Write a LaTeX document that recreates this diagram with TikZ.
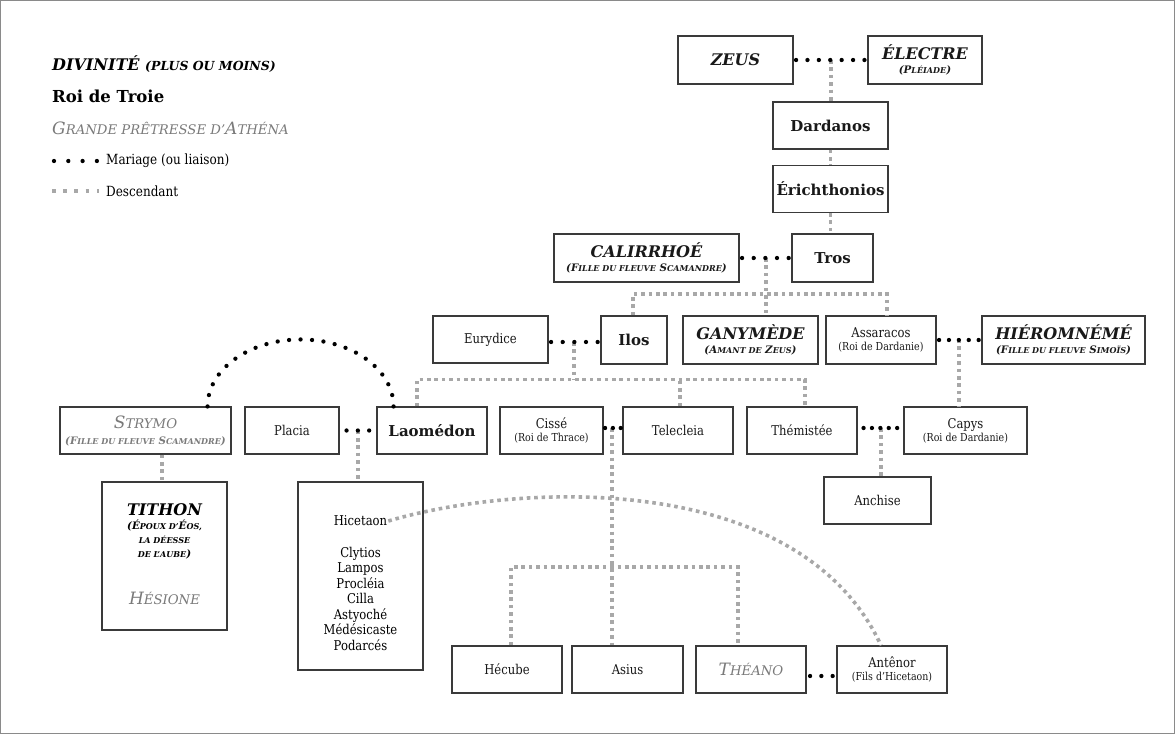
\documentclass[tikz,border=0pt]{standalone}
\usepackage{fontspec}
\setmainfont{DejaVu Serif}
\newfontfamily\etroit{DejaVu Serif}[FakeStretch=0.86]
\usepackage{graphicx}

\definecolor{boxgray}{HTML}{3A3A3A}
\definecolor{descgray}{HTML}{A8A8A8}
\definecolor{textgray}{HTML}{7A7A7A}
\definecolor{framegray}{HTML}{8A8A8A}

% fausses petites capitales
\newcommand\lo[1]{\scalebox{0.78}{#1}}
\newcommand\sous[1]{\\[-2pt]{\etroit\fontsize{11}{12}\selectfont #1}}
\newcommand\sousdieu[1]{\\[-3pt]{\fontsize{10.3}{11}\selectfont\bfseries\itshape #1}}

\tikzset{
  box/.style={draw=boxgray, line width=1.1pt, fill=white, align=center,
    minimum height=47pt, inner sep=0pt, text=black!90},
  gen/.style={font=\etroit\fontsize{13.5}{15}\selectfont},
  roi/.style={font=\fontsize{15}{18}\selectfont\bfseries},
  dieu/.style={font=\fontsize{16}{17}\selectfont\bfseries\itshape},
  pretresse/.style={font=\fontsize{17}{19}\selectfont\itshape, text=textgray},
  mariage/.style={line width=4.3pt, line cap=round, dash pattern=on 0pt off #1},
  mariage/.default=11pt,
  descend/.style={line width=3.6pt, descgray, dash pattern=on 3.6pt off 3.8pt},
}

\begin{document}
\begin{tikzpicture}[x=1pt, y=-1pt]
\useasboundingbox (0,0) rectangle (1175,734);
\draw[framegray, line width=1.4pt] (0.7,0.7) rectangle (1174.3,733.3);

% legende
\node[anchor=west, inner sep=0pt, font=\fontsize{16}{17}\selectfont\bfseries\itshape] (legdieu) at (52,64) {DIVINITÉ \lo{(PLUS OU MOINS)}};
\node[anchor=west, inner sep=0pt, font=\fontsize{16.5}{18}\selectfont\bfseries] (legroi) at (52,96) {Roi de Troie};
\node[anchor=west, inner sep=0pt, pretresse] (legpret) at (52,128) {G\lo{RANDE PRÊTRESSE D’}A\lo{THÉNA}};
\coordinate (legm1) at (54,161);
\coordinate (legm2) at (97,161);
\draw[mariage=14.3pt] (legm1) -- (legm2);
\node[anchor=west, inner sep=0pt, gen, font=\etroit\fontsize{14}{16}\selectfont] (legmar) at (106,161) {Mariage (ou liaison)};
\coordinate (legd1) at (52,191);
\coordinate (legd2) at (99,191);
\draw[descend, dash pattern=on 3.6pt off 7.6pt] (legd1) -- (legd2);
\node[anchor=west, inner sep=0pt, gen, font=\etroit\fontsize{14}{16}\selectfont] (legdesc) at (106,191) {Descendant};

% les boites
\node[box, dieu, minimum width=115pt, minimum height=48pt] (zeus) at (735.5,60) {ZEUS};
\node[box, dieu, minimum width=114pt, minimum height=48pt] (electre) at (925,60) {ÉLECTRE\sousdieu{(P\lo{LÉIADE})}};
\node[box, roi, minimum width=115pt] (dardanos) at (830.5,125.5) {Dardanos};
\node[box, roi, minimum width=115pt] (erichthonios) at (830.5,189) {Érichthonios};
\node[box, roi, minimum width=81pt, minimum height=48pt] (tros) at (832.5,258) {Tros};
\node[box, dieu, minimum width=185pt, minimum height=48pt] (calirrhoe) at (646.5,258) {CALIRRHOÉ\sousdieu{(F\lo{ILLE DU FLEUVE} S\lo{CAMANDRE})}};
\node[box, gen, minimum width=115pt] (eurydice) at (490.5,339.5) {Eurydice};
\node[box, roi, minimum width=66pt, minimum height=48pt] (ilos) at (634,340) {Ilos};
\node[box, dieu, minimum width=135pt, minimum height=48pt] (ganymede) at (750.5,340) {GANYMÈDE\sousdieu{(A\lo{MANT DE} Z\lo{EUS})}};
\node[box, gen, minimum width=110pt, minimum height=48pt] (assaracos) at (881,340) {Assaracos\sous{(Roi de Dardanie)}};
\node[box, dieu, minimum width=163pt, minimum height=48pt] (hieromneme) at (1063.5,340) {HIÉROMNÉMÉ\sousdieu{(F\lo{ILLE DU FLEUVE} S\lo{IMOÏS})}};

\node[box, pretresse, minimum width=171pt] (strymo) at (145.5,430.5) {S\lo{TRYMO}\sousdieu{(F\lo{ILLE DU FLEUVE} S\lo{CAMANDRE})}};
\node[box, gen, minimum width=94pt] (placia) at (292,430.5) {Placia};
\node[box, roi, minimum width=110pt] (laomedon) at (432,430.5) {Laomédon};
\node[box, gen, minimum width=103pt] (cisse) at (551.5,430.5) {Cissé\sous{(Roi de Thrace)}};
\node[box, gen, minimum width=110pt] (telecleia) at (678,430.5) {Telecleia};
\node[box, gen, minimum width=110pt] (themistee) at (802,430.5) {Thémistée};
\node[box, gen, minimum width=123pt] (capys) at (965.5,430.5) {Capys\sous{(Roi de Dardanie)}};
\node[box, gen, minimum width=107pt] (anchise) at (877.5,500.5) {Anchise};

\node[box, minimum width=125pt, minimum height=148pt] (tithonbox) at (164.5,556) {};
\node[dieu, align=center, inner sep=0pt] (tithon) at (164.5,531) {TITHON\sousdieu{(É\lo{POUX D’}É\lo{OS,}}\sousdieu{\lo{LA DÉESSE}}\sousdieu{\lo{DE L’AUBE})}};
\node[pretresse, inner sep=0pt] (hesione) at (164.5,598) {H\lo{ÉSIONE}};

\node[box, minimum width=125pt, minimum height=188pt] (hicbox) at (360.5,576) {};
\node[gen, inner sep=1pt] (hicetaon) at (360.5,521) {Hicetaon};
\node[gen, align=center, inner sep=0pt, font=\etroit\fontsize{13.5}{15.5}\selectfont] (enfants) at (360.5,598.5) {Clytios\\Lampos\\Procléia\\Cilla\\Astyoché\\Médésicaste\\Podarcés};

\node[box, gen, minimum width=110pt] (hecube) at (507,669.5) {Hécube};
\node[box, gen, minimum width=111pt] (asius) at (627.5,669.5) {Asius};
\node[box, pretresse, minimum width=110pt] (theano) at (751,669.5) {T\lo{HÉANO}};
\node[box, gen, minimum width=110pt] (antenor) at (892,669.5) {Antênor\sous{(Fils d’Hicetaon)}};

% descendances
\coordinate (m1) at (831,60);
\coordinate (m2) at (766,258);
\coordinate (bus1) at (766,294);
\coordinate (m3) at (574,342);
\coordinate (bus2) at (574,379.5);
\coordinate (m4) at (959,339);
\coordinate (m5) at (358,430.5);
\coordinate (m6) at (612,428);
\coordinate (bus3) at (612,567);
\coordinate (m7) at (881,428);

\draw[descend] (m1) -- (dardanos.north -| m1);
\draw[descend] (dardanos.south) -- (erichthonios.north);
\draw[descend] (erichthonios.south) -- (erichthonios.south |- tros.north);
\draw[descend] (m2) -- (ganymede.north -| m2);
\draw[descend] ([xshift=-1pt]ilos.north) |- (bus1) -| ([xshift=6pt]assaracos.north);
\draw[descend] (m3) -- (bus2);
\draw[descend] ([xshift=-15pt]laomedon.north) |- (bus2) -| ([xshift=3pt]themistee.north);
\draw[descend] ([xshift=2pt]telecleia.north) -- ([xshift=2pt]telecleia.north |- bus2);
\draw[descend] (m4) -- (capys.north -| m4);
\draw[descend] (m5) -- (hicbox.north -| m5);
\draw[descend] ([xshift=-2.5pt]tithonbox.north |- strymo.south) -- ([xshift=-2.5pt]tithonbox.north);
\draw[descend] (m6) -- (asius.north -| m6);
\draw[descend] ([xshift=4pt]hecube.north) |- (bus3) -| ([xshift=-13pt]theano.north);
\draw[descend] (m7) -- (anchise.north -| m7);
\draw[descend] (hicetaon.east) .. controls (520,482) and (800,470) .. ([xshift=-11pt]antenor.north);

% mariages
\draw[mariage=11.4pt, shorten <=2.5pt, shorten >=2.5pt] (zeus.east) -- (electre.west);
\draw[mariage=11.65pt, shorten <=2.5pt, shorten >=2.5pt] (calirrhoe.east) -- (tros.west);
\draw[mariage=11.65pt, shorten <=2.5pt, shorten >=2.5pt] ([yshift=-2.5pt]eurydice.east) -- ([yshift=-2pt]ilos.west);
\draw[mariage=9.9pt, shorten <=2.5pt, shorten >=2.5pt] (assaracos.east) -- (hieromneme.west);
\draw[mariage=11.3pt, shorten <=7pt, shorten >=7pt] (placia.east) -- (laomedon.west);
\draw[mariage=7.85pt, shorten <=1.5pt, shorten >=1.5pt] ([yshift=2.5pt]cisse.east) -- ([yshift=2.5pt]telecleia.west);
\draw[mariage=8.4pt, shorten <=6pt, shorten >=6pt] ([yshift=2.5pt]themistee.east) -- ([yshift=2.5pt]capys.west);
\draw[mariage=11.3pt, shorten <=3.5pt, shorten >=3.5pt] ([yshift=-6.5pt]theano.east) -- ([yshift=-6.5pt]antenor.west);
\draw[mariage=11.5pt] ([xshift=-24pt]strymo.north east) arc[start angle=180, end angle=360, x radius=93, y radius=67];
\end{tikzpicture}
\end{document}
